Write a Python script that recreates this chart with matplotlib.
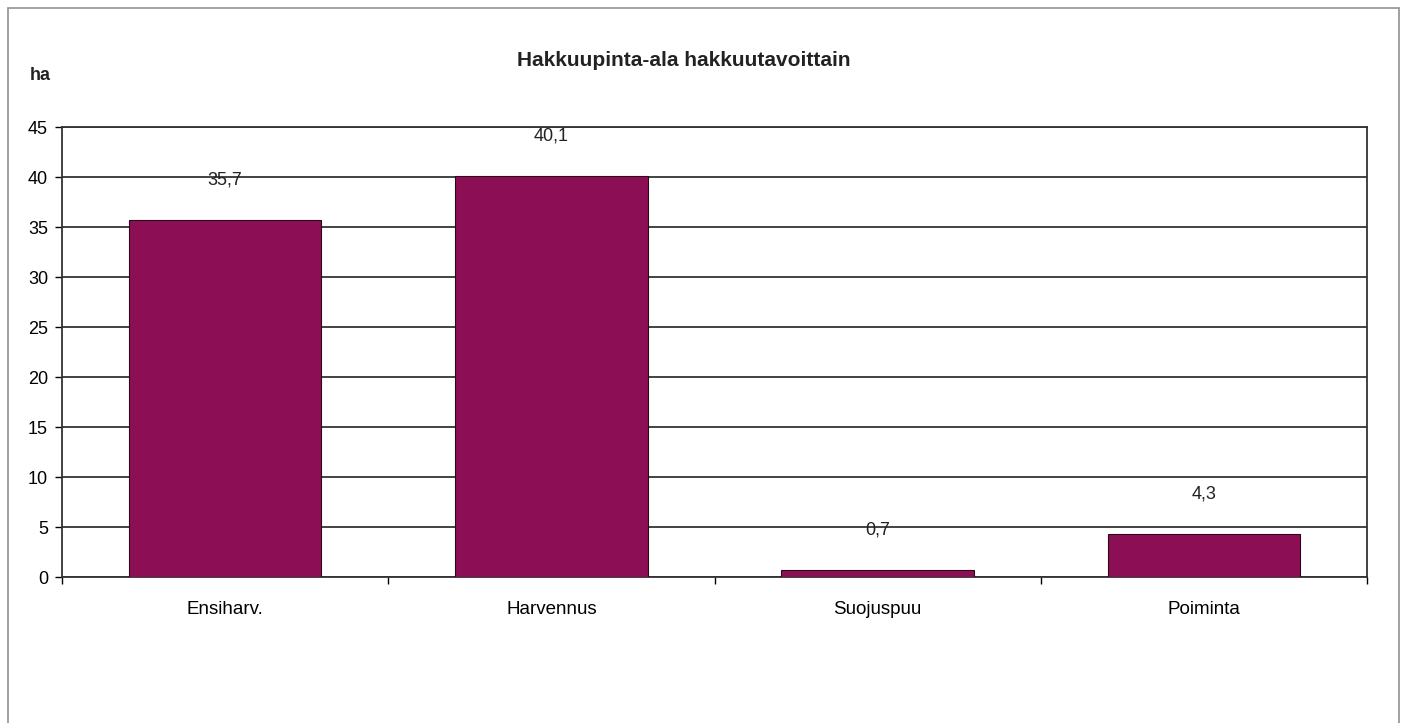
import matplotlib

matplotlib.use("Agg")
import matplotlib.pyplot as plt
from matplotlib.patches import Rectangle
from matplotlib.ticker import FixedLocator

plt.rcParams["font.family"] = ["Liberation Sans", "DejaVu Sans"]

# data
categories = ["Ensiharv.", "Harvennus", "Suojuspuu", "Poiminta"]
values = [35.7, 40.1, 0.7, 4.3]
value_labels = ["35,7", "40,1", "0,7", "4,3"]
y_ticks = [0, 5, 10, 15, 20, 25, 30, 35, 40, 45]

bar_color = "#8C0F55"

fig = plt.figure(figsize=(14.06, 7.23), dpi=100)

# outer chart-area frame
fig.patches.append(
    Rectangle((8 / 1406, -0.01), (1399 - 8) / 1406, 1 - 8 / 723 + 0.01,
              transform=fig.transFigure, fill=False, edgecolor="#9a9a9a",
              linewidth=1.3)
)

ax = fig.add_axes([62 / 1406, 1 - 577 / 723, (1367 - 62) / 1406, (577 - 127) / 723])

x = list(range(len(categories)))
ax.bar(x, values, width=0.59, color=bar_color, edgecolor="#2a0a18",
       linewidth=0.8, zorder=3)

for xi, v, lab in zip(x, values, value_labels):
    ax.annotate(lab, (xi, v), xytext=(0, 29), textcoords="offset points",
                ha="center", va="center", fontsize=13, color="#222222")

ax.set_xlim(-0.5, len(categories) - 0.5)
ax.set_ylim(0, 45)
ax.set_yticks(y_ticks)
ax.yaxis.grid(True, color="#222222", linewidth=1.2, zorder=0)
ax.set_axisbelow(True)

ax.set_xticks(x)
ax.set_xticklabels(categories, fontsize=13.5)
ax.xaxis.set_minor_locator(FixedLocator([i - 0.5 for i in range(len(categories) + 1)]))
ax.tick_params(axis="x", which="major", length=0, pad=17)
ax.tick_params(axis="x", which="minor", length=5, width=1, direction="out")
ax.tick_params(axis="y", length=5, width=1, direction="out", labelsize=13, pad=5)

for side in ("left", "right", "top", "bottom"):
    ax.spines[side].set_color("#333333")
    ax.spines[side].set_linewidth(1.3)

fig.text(684 / 1406, 1 - 60 / 723, "Hakkuupinta-ala hakkuutavoittain",
         ha="center", va="center", fontsize=15, fontweight="bold",
         color="#222222")
fig.text(40 / 1406, 1 - 75 / 723, "ha", ha="center", va="center",
         fontsize=13, fontweight="bold", color="#222222")

fig.savefig("out.png", dpi=100, facecolor="white")
